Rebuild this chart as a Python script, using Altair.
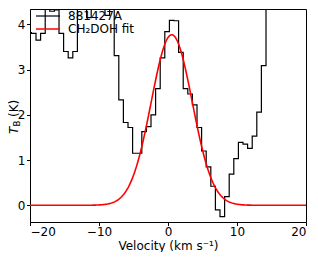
import altair as alt
import numpy as np
import pandas as pd

# Spectrum channels (km/s) and brightness temperature (K)
velocity = [-20.13, -19.46, -18.80, -18.13, -17.46, -16.80, -16.13, -15.46, -14.80, -14.13,
            -13.46, -12.80, -12.13, -11.46, -10.80, -10.13, -9.46, -8.80, -8.13, -7.46,
            -6.80, -6.13, -5.46, -4.80, -4.13, -3.46, -2.80, -2.13, -1.46, -0.80,
            -0.13, 0.54, 1.20, 1.87, 2.54, 3.20, 3.87, 4.54, 5.20, 5.87,
            6.54, 7.20, 7.87, 8.54, 9.20, 9.87, 10.54, 11.20, 11.87, 12.54,
            13.20, 13.87, 14.54, 15.20, 15.87, 16.54, 17.20, 17.87, 18.54, 19.20,
            19.87, 20.54]
tb = [3.82, 3.80, 3.65, 3.80, 4.60, 4.29, 4.32, 3.80, 3.40, 3.26,
      3.40, 4.70, 4.80, 4.15, 4.80, 5.00, 4.90, 4.20, 4.60, 3.31,
      2.33, 1.83, 1.72, 1.15, 1.15, 1.63, 1.74, 2.00, 2.58, 3.26,
      3.84, 4.09, 4.08, 3.38, 2.58, 2.46, 2.22, 1.72, 1.20, 0.85,
      0.42, -0.10, -0.25, 0.19, 0.69, 1.03, 1.39, 1.35, 1.26, 1.53,
      2.06, 3.09, 5.2, 6.5, 7.8, 8.6, 9.0, 8.8, 8.2, 7.5,
      7.0, 6.8]

# Gaussian fit parameters
fit_amp = 3.77
fit_center = 0.54
fit_sigma = 2.97

legend_labels = ["881427A", "CH\u2082DOH fit"]
legend_colors = ["black", "red"]
x_ticks = [-20, -10, 0, 10, 20]
y_ticks = [0, 1, 2, 3, 4]
x_domain = [-20, 20]
y_domain = [-0.37, 4.34]

FONT = "DejaVu Sans"

spec_df = pd.DataFrame({"v": velocity, "tb": tb})
vfit = np.linspace(-20, 20, 401)
fit_df = pd.DataFrame({"v": vfit, "tb": fit_amp * np.exp(-0.5 * ((vfit - fit_center) / fit_sigma) ** 2)})

xs = alt.Scale(domain=x_domain, nice=False, zero=False)
ys = alt.Scale(domain=y_domain, nice=False, zero=False)

xaxis = alt.Axis(values=x_ticks, title="Velocity (km s\u207b\u00b9)", grid=False,
                 labelFont=FONT, labelFontSize=12, labelColor="black",
                 titleFont=FONT, titleFontSize=12, titleFontWeight="normal", titleColor="black",
                 tickSize=3.5, tickColor="black", domainColor="black",
                 labelPadding=0.5, labelExpr="replace(datum.label, '-', '\u2212')",
                 titleY=27, titleBaseline="alphabetic")
yaxis = alt.Axis(values=y_ticks, title=None, grid=False,
                 labelFont=FONT, labelFontSize=12, labelColor="black",
                 tickSize=3.5, tickColor="black", domainColor="black",
                 labelPadding=1.5)

spec = alt.Chart(spec_df).mark_line(interpolate="step", color="black", strokeWidth=1.2, clip=True).encode(
    x=alt.X("v:Q", scale=xs, axis=xaxis),
    y=alt.Y("tb:Q", scale=ys, axis=yaxis),
)
fit = alt.Chart(fit_df).mark_line(color="red", strokeWidth=1.6, clip=True).encode(
    x=alt.X("v:Q", scale=xs),
    y=alt.Y("tb:Q", scale=ys),
)

one = pd.DataFrame({"a": [0]})
layers = [spec, fit]
rows_y = [7, 20]
for lab, col, ry in zip(legend_labels, legend_colors, rows_y):
    layers.append(alt.Chart(one).mark_rule(color=col, strokeWidth=1.5 if col == "red" else 1.2).encode(
        x=alt.value(6), x2=alt.value(30), y=alt.value(ry)))
    layers.append(alt.Chart(one).mark_text(align="left", baseline="middle", font=FONT, fontSize=12,
                                          color="black").encode(
        x=alt.value(38), y=alt.value(ry), text=alt.value(lab)))

# y-axis title T_B (K), rotated
layers.append(alt.Chart(one).mark_text(angle=270, align="left", baseline="alphabetic", font=FONT,
                                      fontSize=12, fontStyle="italic", color="black").encode(
    x=alt.value(-12.5), y=alt.value(125), text=alt.value("T")))
layers.append(alt.Chart(one).mark_text(angle=270, align="left", baseline="alphabetic", font=FONT,
                                      fontSize=8.5, color="black").encode(
    x=alt.value(-10.1), y=alt.value(117.6), text=alt.value("B")))
layers.append(alt.Chart(one).mark_text(angle=270, align="left", baseline="alphabetic", font=FONT,
                                      fontSize=12, color="black").encode(
    x=alt.value(-12.5), y=alt.value(108), text=alt.value("(K)")))

chart = alt.layer(*layers).properties(
    width=276, height=213,
    autosize=alt.AutoSizeParams(type="none"),
    padding={"left": 22, "top": 1, "right": 4, "bottom": 30},
).configure_view(stroke="black", strokeWidth=1)

chart.save("out.html", embed_options={"renderer": "svg", "actions": False})
